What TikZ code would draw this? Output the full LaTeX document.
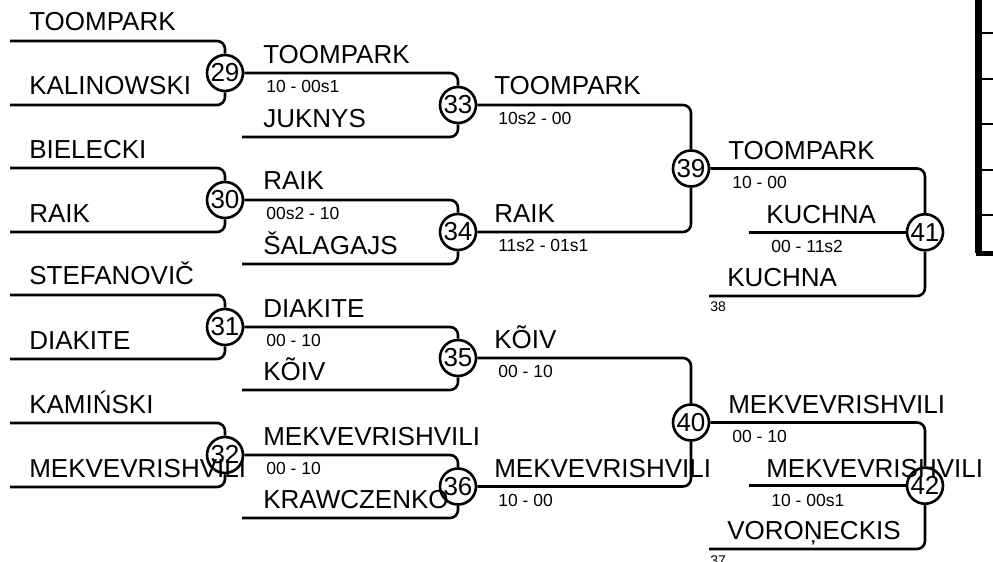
\documentclass[tikz,border=0pt]{standalone}
\usepackage{fontspec}
\setmainfont{Liberation Sans}
\begin{document}
\begin{tikzpicture}[x=0.5pt,y=-0.5pt, line width=1.3pt,
  nm/.style={anchor=base west, font=\fontsize{13}{13}\selectfont, inner sep=0pt},
  sc/.style={anchor=base west, font=\fontsize{8.75}{9}\selectfont, inner sep=0pt},
  lbl/.style={anchor=base west, font=\fontsize{7}{7}\selectfont, inner sep=0pt},
  mt/.style={circle, draw, minimum size=18pt, inner sep=0pt, font=\fontsize{13}{13}\selectfont},
  br/.style={rounded corners=4pt}]
\useasboundingbox (0,0) rectangle (993,562);

% match circles
\node[mt] (m29) at (225,73) {29};
\node[mt] (m30) at (225,200) {30};
\node[mt] (m31) at (225,327) {31};
\node[mt] (m32) at (225,455) {32};
\node[mt] (m33) at (458,105) {33};
\node[mt] (m34) at (458,232) {34};
\node[mt] (m35) at (458,358) {35};
\node[mt] (m36) at (458,486.5) {36};
\node[mt] (m39) at (691,168.5) {39};
\node[mt] (m40) at (691,422.5) {40};
\node[mt] (m41) at (925,232.25) {41};
\node[mt] (m42) at (925,485.75) {42};

% round 1
\coordinate (a29) at (10,41);  \draw[br] (a29) -| (m29.north);
\coordinate (b29) at (10,105); \draw[br] (b29) -| (m29.south);
\coordinate (a30) at (10,168); \draw[br] (a30) -| (m30.north);
\coordinate (b30) at (10,232); \draw[br] (b30) -| (m30.south);
\coordinate (a31) at (10,295); \draw[br] (a31) -| (m31.north);
\coordinate (b31) at (10,359); \draw[br] (b31) -| (m31.south);
\coordinate (a32) at (10,423); \draw[br] (a32) -| (m32.north);
\coordinate (b32) at (10,487); \draw[br] (b32) -| (m32.south);

% round 2
\draw[br] (m29.east) -| (m33.north);
\coordinate (b33) at (242,137); \draw[br] (b33) -| (m33.south);
\draw[br] (m30.east) -| (m34.north);
\coordinate (b34) at (242,264); \draw[br] (b34) -| (m34.south);
\draw[br] (m31.east) -| (m35.north);
\coordinate (b35) at (242,390); \draw[br] (b35) -| (m35.south);
\draw[br] (m32.east) -| (m36.north);
\coordinate (b36) at (242,518); \draw[br] (b36) -| (m36.south);

% round 3
\draw[br] (m33.east) -| (m39.north);
\draw[br] (m34.east) -| (m39.south);
\draw[br] (m35.east) -| (m40.north);
\draw[br] (m36.east) -| (m40.south);

% round 4
\draw[br] (m39.east) -| (m41.north);
\coordinate (c41) at (749,232.25); \draw (c41) -- (m41.west);
\coordinate (d41) at (709,296); \draw[br] (d41) -| (m41.south);
\draw[br] (m40.east) -| (m42.north);
\coordinate (c42) at (749,485.75); \draw (c42) -- (m42.west);
\coordinate (d42) at (709,549); \draw[br] (d42) -| (m42.south);

% names round 1
\node[nm] (n1) at (28,31) {TOOMPARK};
\node[nm] (n2) at (28,95) {KALINOWSKI};
\node[nm] (n3) at (28,158) {BIELECKI};
\node[nm] (n4) at (28,222) {RAIK};
\node[nm] (n5) at (28,285) {STEFANOVIČ};
\node[nm] (n6) at (28,349) {DIAKITE};
\node[nm] (n7) at (28,413) {KAMIŃSKI};
\node[nm] (n8) at (28,477) {MEKVEVRISHVILI};

% round 2
\node[nm] (r1) at (262,63) {TOOMPARK};
\node[sc] (s1) at (265,92) {10 - 00s1};
\node[nm] (r2) at (262,127) {JUKNYS};
\node[nm] (r3) at (262,190) {RAIK};
\node[sc] (s2) at (265,219) {00s2 - 10};
\node[nm] (r4) at (262,254) {ŠALAGAJS};
\node[nm] (r5) at (262,317) {DIAKITE};
\node[sc] (s3) at (265,346) {00 - 10};
\node[nm] (r6) at (262,380) {KÕIV};
\node[nm] (r7) at (262,445) {MEKVEVRISHVILI};
\node[sc] (s4) at (265,474) {00 - 10};
\node[nm] (r8) at (262,508) {KRAWCZENKO};

% round 3
\node[nm] (q1) at (493,95) {TOOMPARK};
\node[sc] (t1) at (497,124) {10s2 - 00};
\node[nm] (q2) at (493,222) {RAIK};
\node[sc] (t2) at (497,251) {11s2 - 01s1};
\node[nm] (q3) at (493,348) {KÕIV};
\node[sc] (t3) at (497,377) {00 - 10};
\node[nm] (q4) at (493,477) {MEKVEVRISHVILI};
\node[sc] (t4) at (497,506) {10 - 00};

% round 4
\node[nm] (f1) at (727,159) {TOOMPARK};
\node[sc] (g1) at (731,188) {10 - 00};
\node[nm] (f2) at (765,223) {KUCHNA};
\node[sc] (g2) at (770,252) {00 - 11s2};
\node[nm] (f3) at (726,286) {KUCHNA};
\node[lbl] (h1) at (709,311) {38};
\node[nm] (f4) at (727,413) {MEKVEVRISHVILI};
\node[sc] (g3) at (731,442) {00 - 10};
\node[nm] (f5) at (765,477) {MEKVEVRISHVILI};
\node[sc] (g4) at (770,506) {10 - 00s1};
\node[nm] (f6) at (726,539) {VOROŅECKIS};
\node[lbl] (h2) at (709,565) {37};

% table edge at right
\draw[line width=3.5pt] (978.5,0) -- (978.5,253);
\foreach \yy in {33,79,124,170,215} \draw[line width=1.1pt] (982,\yy) -- (993,\yy);
\draw[line width=2.5pt, line cap=rect] (978.5,253) -- (993,253);
\end{tikzpicture}
\end{document}
